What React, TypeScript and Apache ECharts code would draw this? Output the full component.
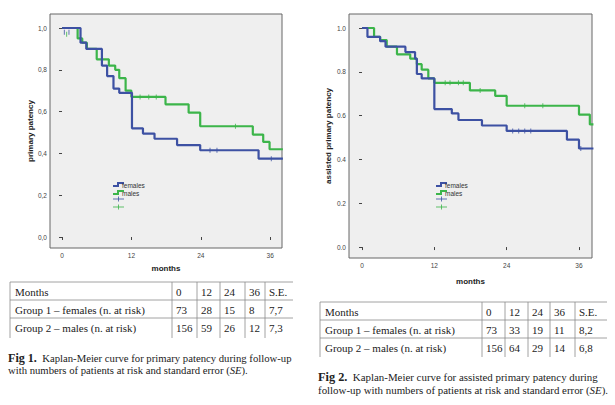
import React, { useEffect, useRef } from 'react';
import * as echarts from 'echarts';

const BLUE = '#3d51a3';
const GREEN = '#3cb54a';
const SANS = 'Liberation Sans, Arial, sans-serif';
const SERIF = 'Liberation Serif, Times New Roman, serif';

const monthTicks = [0, 12, 24, 36];
const survivalTicks = [0, 0.2, 0.4, 0.6, 0.8, 1.0];

// Fig 1 – primary patency  [month, survival]
const primaryFemales = [[0, 1], [3.2, 0.93], [4.2, 0.9], [6.9, 0.82], [7.8, 0.77], [8.9, 0.71], [9.9, 0.69], [12.1, 0.52], [14, 0.495], [16, 0.47], [19.9, 0.44], [23.9, 0.415], [34, 0.375], [38.2, 0.375]];
const primaryMales = [[0, 1], [2.7, 0.95], [3.5, 0.93], [4.3, 0.9], [6, 0.85], [8.1, 0.82], [9.2, 0.8], [9.9, 0.76], [11, 0.7], [12, 0.67], [17.9, 0.635], [21.9, 0.595], [23.9, 0.53], [33, 0.49], [34.8, 0.455], [35.9, 0.42], [38.2, 0.42]];
const primaryFemalesCensored = [[0.4, 0.98], [1.2, 0.98], [25.6, 0.415], [26.8, 0.415], [36.2, 0.375]];
const primaryMalesCensored = [[0.8, 0.97], [13.5, 0.67], [15, 0.67], [16.3, 0.67], [30, 0.53]];

// Fig 2 – assisted primary patency
const assistedFemales = [[0, 1], [0.9, 0.96], [3, 0.94], [3.9, 0.915], [7.2, 0.89], [8.8, 0.86], [9.1, 0.79], [9.9, 0.77], [12, 0.63], [14.9, 0.61], [16, 0.58], [19.9, 0.555], [24, 0.53], [34, 0.49], [36, 0.45], [38.4, 0.45]];
const assistedMales = [[0, 1], [2, 0.96], [3, 0.945], [4.1, 0.915], [5.8, 0.88], [8, 0.86], [9.1, 0.835], [9.9, 0.81], [11, 0.77], [12, 0.75], [17.9, 0.715], [22.1, 0.69], [24, 0.645], [36, 0.605], [37.8, 0.56], [38.4, 0.56]];
const assistedFemalesCensored = [[25, 0.53], [26, 0.53], [27, 0.53], [28, 0.53], [36.3, 0.45]];
const assistedMalesCensored = [[13.8, 0.75], [14.6, 0.75], [16, 0.75], [16.8, 0.75], [19.6, 0.715], [27, 0.645], [30, 0.645]];

// Tables
const tableHeader = ['Months', '0', '12', '24', '36', 'S.E.'];
const fig1FemalesRow = ['Group 1 – females (n. at risk)', '73', '28', '15', '8', '7,7'];
const fig1MalesRow = ['Group 2 – males (n. at risk)', '156', '59', '26', '12', '7,3'];
const fig2FemalesRow = ['Group 1 – females (n. at risk)', '73', '33', '19', '11', '8,2'];
const fig2MalesRow = ['Group 2 – males (n. at risk)', '156', '64', '29', '14', '6,8'];

const legendNames = ['females', 'males'];

function xAxisCfg(gridIndex: number, min: number, max: number, nameGap: number) {
  return {
    type: 'value', gridIndex, min, max,
    name: 'months', nameLocation: 'middle', nameGap,
    nameTextStyle: { fontWeight: 'bold', fontSize: 8, color: '#222', fontFamily: SANS },
    axisLine: { show: false }, splitLine: { show: false },
    axisTick: { show: true, length: 3, customValues: monthTicks, lineStyle: { color: '#444' } },
    axisLabel: { customValues: monthTicks, fontSize: 6.5, color: '#444', margin: 4, fontFamily: SANS },
  };
}
function yAxisCfg(gridIndex: number, min: number, max: number, name: string, nameGap: number, comma: boolean) {
  return {
    type: 'value', gridIndex, min, max,
    name, nameLocation: 'middle', nameGap,
    nameTextStyle: { fontWeight: 'bold', fontSize: 8, color: '#222', fontFamily: SANS },
    axisLine: { show: false }, splitLine: { show: false },
    axisTick: { show: true, length: 3, customValues: survivalTicks, lineStyle: { color: '#444' } },
    axisLabel: {
      customValues: survivalTicks, fontSize: 6.5, color: '#444', margin: 3, fontFamily: SANS,
      formatter: (v: number) => (comma ? v.toFixed(1).replace('.', ',') : v.toFixed(1)),
    },
  };
}
function stepSeries(data: number[][], color: string, idx: number) {
  return {
    type: 'line', step: 'end', data, xAxisIndex: idx, yAxisIndex: idx,
    showSymbol: false, symbol: 'none', lineStyle: { color, width: 2.2 }, z: color === GREEN ? 3 : 4,
  };
}
function censorSeries(data: number[][], color: string, idx: number) {
  return {
    type: 'scatter', data, xAxisIndex: idx, yAxisIndex: idx,
    symbol: 'rect', symbolSize: [1, 5], itemStyle: { color }, z: 5,
  };
}

function legendGraphics(x: number, y: number) {
  const els: any[] = [];
  [BLUE, GREEN].forEach((c, i) => {
    const yy = y + i * 8;
    els.push({ type: 'polyline', shape: { points: [[x, yy + 2], [x + 5, yy + 2], [x + 5, yy - 1], [x + 11, yy - 1]] }, style: { stroke: c, lineWidth: 2, fill: 'none' } });
    els.push({ type: 'text', style: { text: legendNames[i], x: x + 9, y: yy + 1, fontSize: 6.5, fontFamily: SANS, fill: '#333', textVerticalAlign: 'middle' } });
    const py = y + 15 + i * 8;
    els.push({ type: 'line', shape: { x1: x, y1: py, x2: x + 11, y2: py }, style: { stroke: c, lineWidth: 1, opacity: 0.8 } });
    els.push({ type: 'line', shape: { x1: x + 5.5, y1: py - 2.5, x2: x + 5.5, y2: py + 2.5 }, style: { stroke: c, lineWidth: 1, opacity: 0.8 } });
  });
  return els;
}

function tableGraphics(left: number, top: number, right: number, rowH: number, cols: number[], rows: string[][], bottom: number) {
  const els: any[] = [];
  const lineStyle = { stroke: '#8a8a8a', lineWidth: 0.8 };
  for (let r = 0; r < 3; r++) {
    els.push({ type: 'line', shape: { x1: left, y1: top + r * rowH, x2: right, y2: top + r * rowH }, style: lineStyle });
  }
  [left, ...cols].forEach((cx) => {
    els.push({ type: 'line', shape: { x1: cx, y1: top, x2: cx, y2: bottom }, style: lineStyle });
  });
  rows.forEach((row, r) => {
    row.forEach((t, c) => {
      const tx = c === 0 ? left + 5 : cols[c - 1] + 4;
      els.push({ type: 'text', style: { text: t, x: tx, y: top + r * rowH + rowH / 2 + 0.5, fontSize: 11, fontFamily: SERIF, fill: '#222', textVerticalAlign: 'middle' } });
    });
  });
  return els;
}

function captionGraphic(x: number, y: number, lines: string[], lineGap: number, figLabel: string, size: number) {
  return lines.map((ln, i) => ({
    type: 'text',
    style: {
      text: i === 0 ? `{b|${figLabel}}  ${ln}` : ln.replace('(SE)', '({i|SE})'),
      x, y: y + i * lineGap, fontSize: size, fontFamily: SERIF, fill: '#222', textVerticalAlign: 'middle',
      rich: {
        b: { fontSize: size + 1.4, fontWeight: 'bold', fontFamily: SERIF, fill: '#222' },
        i: { fontSize: size, fontStyle: 'italic', fontFamily: SERIF, fill: '#222' },
      },
    },
  }));
}

const option: any = {
  animation: false,
  backgroundColor: '#ffffff',
  grid: [
    { left: 50, top: 14, width: 232, height: 234, show: true, backgroundColor: '#efefef', borderColor: '#666', borderWidth: 1, containLabel: false },
    { left: 349, top: 14, width: 243, height: 244, show: true, backgroundColor: '#efefef', borderColor: '#666', borderWidth: 1, containLabel: false },
  ],
  xAxis: [xAxisCfg(0, -2.08, 38.05, 16), xAxisCfg(1, -2.16, 38.16, 19)],
  yAxis: [
    yAxisCfg(0, -0.0526, 1.067, 'primary patency', 16, true),
    yAxisCfg(1, -0.050, 1.064, 'assisted primary patency', 17, false),
  ],
  series: [
    stepSeries(primaryMales, GREEN, 0),
    stepSeries(primaryFemales, BLUE, 0),
    censorSeries(primaryMalesCensored, GREEN, 0),
    censorSeries(primaryFemalesCensored, BLUE, 0),
    stepSeries(assistedMales, GREEN, 1),
    stepSeries(assistedFemales, BLUE, 1),
    censorSeries(assistedMalesCensored, GREEN, 1),
    censorSeries(assistedFemalesCensored, BLUE, 1),
  ],
  graphic: [
    ...legendGraphics(113, 184),
    ...legendGraphics(436, 184),
    ...tableGraphics(10, 282, 293, 18, [172, 197, 220, 245, 265], [tableHeader, fig1FemalesRow, fig1MalesRow], 338),
    ...tableGraphics(320, 302, 607, 18, [482, 505, 528, 550, 575], [tableHeader, fig2FemalesRow, fig2MalesRow], 357),
    ...captionGraphic(8, 358, ['Kaplan-Meier curve for primary patency during follow-up', 'with numbers of patients at risk and standard error (SE).'], 12, 'Fig 1.', 10.7),
    ...captionGraphic(318, 377, ['Kaplan-Meier curve for assisted primary patency during', 'follow-up with numbers of patients at risk and standard error (SE).'], 13, 'Fig 2.', 10.9),
  ],
};

export default function App() {
  const ref = useRef<HTMLDivElement>(null);
  useEffect(() => {
    const chart = echarts.init(ref.current!, null, { renderer: 'svg' });
    chart.setOption(option);
    return () => chart.dispose();
  }, []);
  return <div ref={ref} style={{ position: 'fixed', left: 0, top: 0, width: 615, height: 405, background: '#fff' }} />;
}
